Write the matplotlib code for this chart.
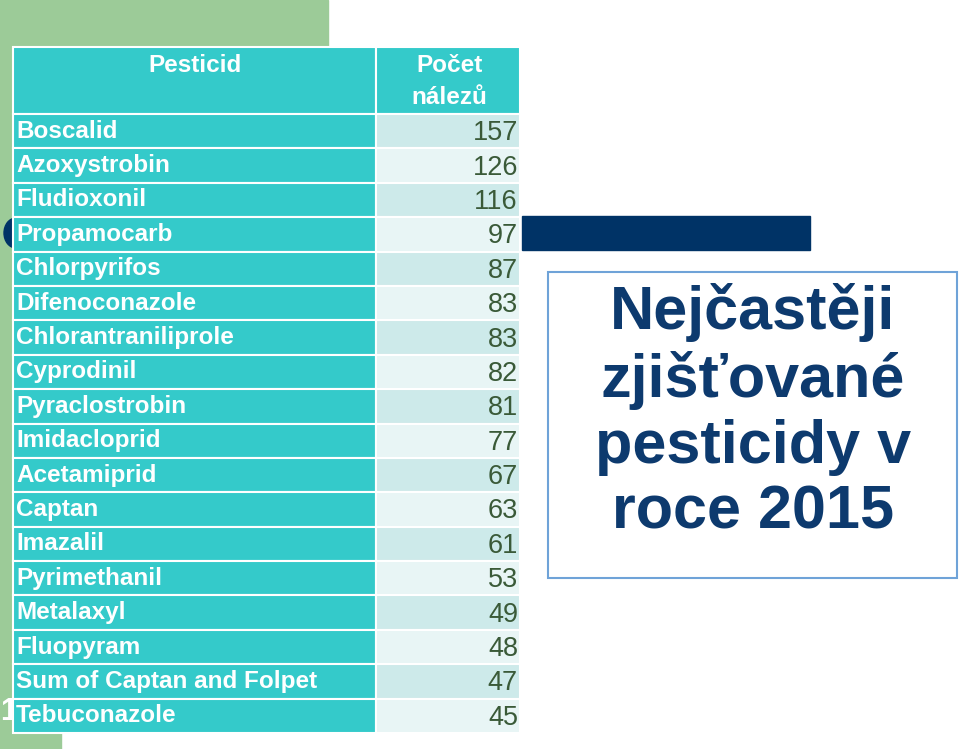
import matplotlib
matplotlib.use("Agg")
import matplotlib.pyplot as plt
from matplotlib.patches import Rectangle, Ellipse

pesticides = ["Boscalid", "Azoxystrobin", "Fludioxonil", "Propamocarb", "Chlorpyrifos",
              "Difenoconazole", "Chlorantraniliprole", "Cyprodinil", "Pyraclostrobin",
              "Imidacloprid", "Acetamiprid", "Captan", "Imazalil", "Pyrimethanil",
              "Metalaxyl", "Fluopyram", "Sum of Captan and Folpet", "Tebuconazole"]
counts = [157, 126, 116, 97, 87, 83, 83, 82, 81, 77, 67, 63, 61, 53, 49, 48, 47, 45]
headers = ["Pesticid", "Počet\nnálezů"]
title = "Nejčastěji\nzjišťované\npesticidy v\nroce 2015"

plt.rcParams['font.family'] = ['Liberation Sans', 'DejaVu Sans']

W, H = 959, 749
fig = plt.figure(figsize=(W / 100, H / 100), dpi=100)
ax = fig.add_axes([0, 0, 1, 1])
ax.set_xlim(0, W)
ax.set_ylim(H, 0)
ax.axis('off')

green = '#9ccb98'
cyan = '#34caca'
light1 = '#cdeaea'
light2 = '#e8f5f5'
navy = '#003366'

# background decorations
ax.add_patch(Rectangle((0, 0), 328, 60, color=green, zorder=0))
ax.add_patch(Rectangle((0, 0), 13, H, color=green, zorder=0))
ax.add_patch(Rectangle((0, 700), 61, H - 700, color=green, zorder=0))
ax.add_patch(Ellipse((16, 233), 24, 30, color=navy, zorder=0.5))
ax.add_patch(Rectangle((522, 216), 288, 34, color=navy, zorder=0.5))
ax.text(0, 712, "1", color='white', fontsize=22, fontweight='bold',
        ha='left', va='center', zorder=0.6)

# table
x0, xm, x1 = 13, 376, 520
ytop, yhead = 47, 114
n = len(pesticides)
rh = (733 - yhead) / n

ax.add_patch(Rectangle((x0, ytop), xm - x0, yhead - ytop, facecolor=cyan,
                       edgecolor='white', lw=1.5, zorder=1))
ax.add_patch(Rectangle((xm, ytop), x1 - xm, yhead - ytop, facecolor=cyan,
                       edgecolor='white', lw=1.5, zorder=1))
ax.text((x0 + xm) / 2 + 1, 66, headers[0], color='white', fontsize=17.5, fontweight='bold',
        ha='center', va='center', zorder=2)
ax.text((xm + x1) / 2 + 1, 82, headers[1], color='white', fontsize=17.5, fontweight='bold',
        ha='center', va='center', linespacing=1.5, zorder=2)

for i, (p, c) in enumerate(zip(pesticides, counts)):
    y = yhead + i * rh
    ax.add_patch(Rectangle((x0, y), xm - x0, rh, facecolor=cyan,
                           edgecolor='white', lw=1.5, zorder=1))
    ax.add_patch(Rectangle((xm, y), x1 - xm, rh, facecolor=light1 if i % 2 == 0 else light2,
                           edgecolor='white', lw=1.5, zorder=1))
    ax.text(x0 + 3, y + rh / 2, p, color='white', fontsize=17.5, fontweight='bold',
            ha='left', va='center', zorder=2)
    ax.text(x1 - 2, y + rh / 2 + 2, str(c), color='#3a5a38', fontsize=19.5,
            ha='right', va='center', zorder=2)

# title box
ax.add_patch(Rectangle((548, 272), 409, 306, facecolor='white',
                       edgecolor='#6fa3d8', lw=1.5, zorder=1))
ax.text(753, 412, title, color='#0d3a6e', fontsize=44, fontweight='bold',
        ha='center', va='center', linespacing=1.2, zorder=2)

fig.savefig("out.png", dpi=100)
